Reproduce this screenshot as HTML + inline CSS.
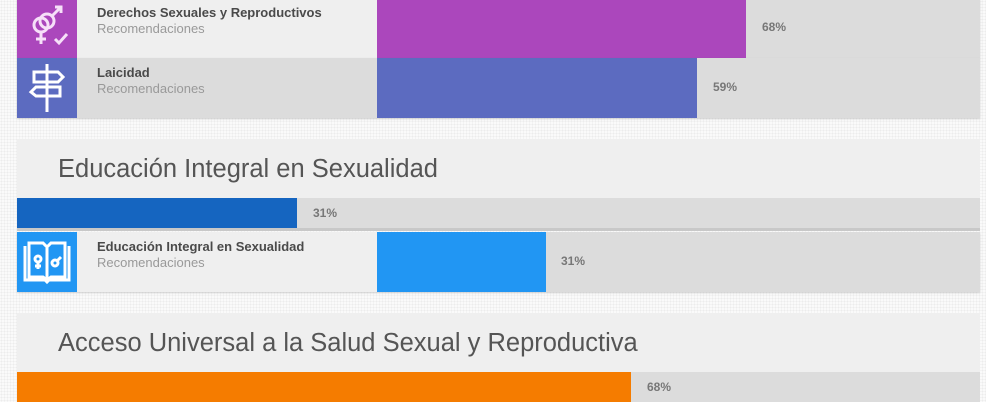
<!DOCTYPE html><html><head><style>
body{margin:0;width:986px;height:400px;overflow:hidden;background:#fafafa;background-image:radial-gradient(#ececec 0.8px,transparent 0.9px);background-size:3px 3px;font-family:"Liberation Sans",sans-serif;position:relative}
.a{position:absolute}
.row{position:absolute;left:17px;width:963px;height:60px;background:#dcdcdc;box-shadow:0 1px 2px rgba(0,0,0,.15)}
.ic{position:absolute;left:0;top:0;width:60px;height:60px}
.lb{position:absolute;left:60px;top:0;width:300px;height:60px}
.t1{position:absolute;left:20px;top:7px;font-size:13px;font-weight:bold;color:#4a4a4a}
.t2{position:absolute;left:20px;top:23px;font-size:13px;color:#999}
.bar{position:absolute;left:360px;top:0;height:60px}
.pc{position:absolute;top:22px;font-size:12px;font-weight:bold;color:#777}
.hd{position:absolute;left:17px;width:963px;height:59px;background:#efefef;font-size:25.5px;color:#555}
.hd span{position:absolute;left:41px;top:16px}
</style></head><body>
<div class="row" style="top:-2px"><div class="ic" style="background:#ab47bc"><svg width="60" height="60"><g fill="none" stroke="#f6e0f8" stroke-width="3"><circle cx="24" cy="27" r="7"/><circle cx="30" cy="23" r="7"/><path d="M24 34v12M19 41h10M35 18l9-9M38 9h6v6M38 41l4 4 8-9"/></g></svg></div><div class="lb" style="background:#efefef"><div class="t1">Derechos Sexuales y Reproductivos</div><div class="t2">Recomendaciones</div></div><div class="bar" style="width:369px;background:#ab47bc"></div><div class="pc" style="left:745px">68%</div></div>
<div class="row" style="top:58px"><div class="ic" style="background:#5c6bc0"><svg width="60" height="60"><g fill="none" stroke="#fff" stroke-width="3"><path d="M30 6v48M17 14h24l5 5-5 5H17zM19 29h24v9H19l-5-4z"/></g></svg></div><div class="lb" style="background:#dcdcdc"><div class="t1">Laicidad</div><div class="t2">Recomendaciones</div></div><div class="bar" style="width:320px;background:#5c6bc0"></div><div class="pc" style="left:696px">59%</div></div>
<div class="hd" style="top:139px"><span>Educación Integral en Sexualidad</span></div>
<div class="a" style="left:17px;top:198px;width:963px;height:30px;background:#dcdcdc;border-bottom:3px solid #c8c8c8"><div class="a" style="left:0;top:0;width:280px;height:30px;background:#1565c0"></div><div class="pc" style="left:296px;top:8px">31%</div></div>
<div class="row" style="top:232px"><div class="ic" style="background:#2196f3"><svg width="60" height="60"><g fill="none" stroke="#fff" stroke-width="3"><path d="M8 14v34h20l2 2 2-2h20V14M12 11h14l4 4 4-4h14v34H34l-4 3-4-3H12zM30 15v33"/><circle cx="21" cy="27" r="3"/><path d="M21 30v7M18 34h6"/><circle cx="38" cy="31" r="3"/><path d="M40 29l4-4"/></g></svg></div><div class="lb" style="background:#efefef"><div class="t1">Educación Integral en Sexualidad</div><div class="t2">Recomendaciones</div></div><div class="bar" style="width:169px;background:#2196f3"></div><div class="pc" style="left:544px">31%</div></div>
<div class="hd" style="top:313px"><span>Acceso Universal a la Salud Sexual y Reproductiva</span></div>
<div class="a" style="left:17px;top:372px;width:963px;height:30px;background:#dcdcdc"><div class="a" style="left:0;top:0;width:614px;height:30px;background:#f57c00"></div><div class="pc" style="left:630px;top:8px">68%</div></div>
</body></html>
